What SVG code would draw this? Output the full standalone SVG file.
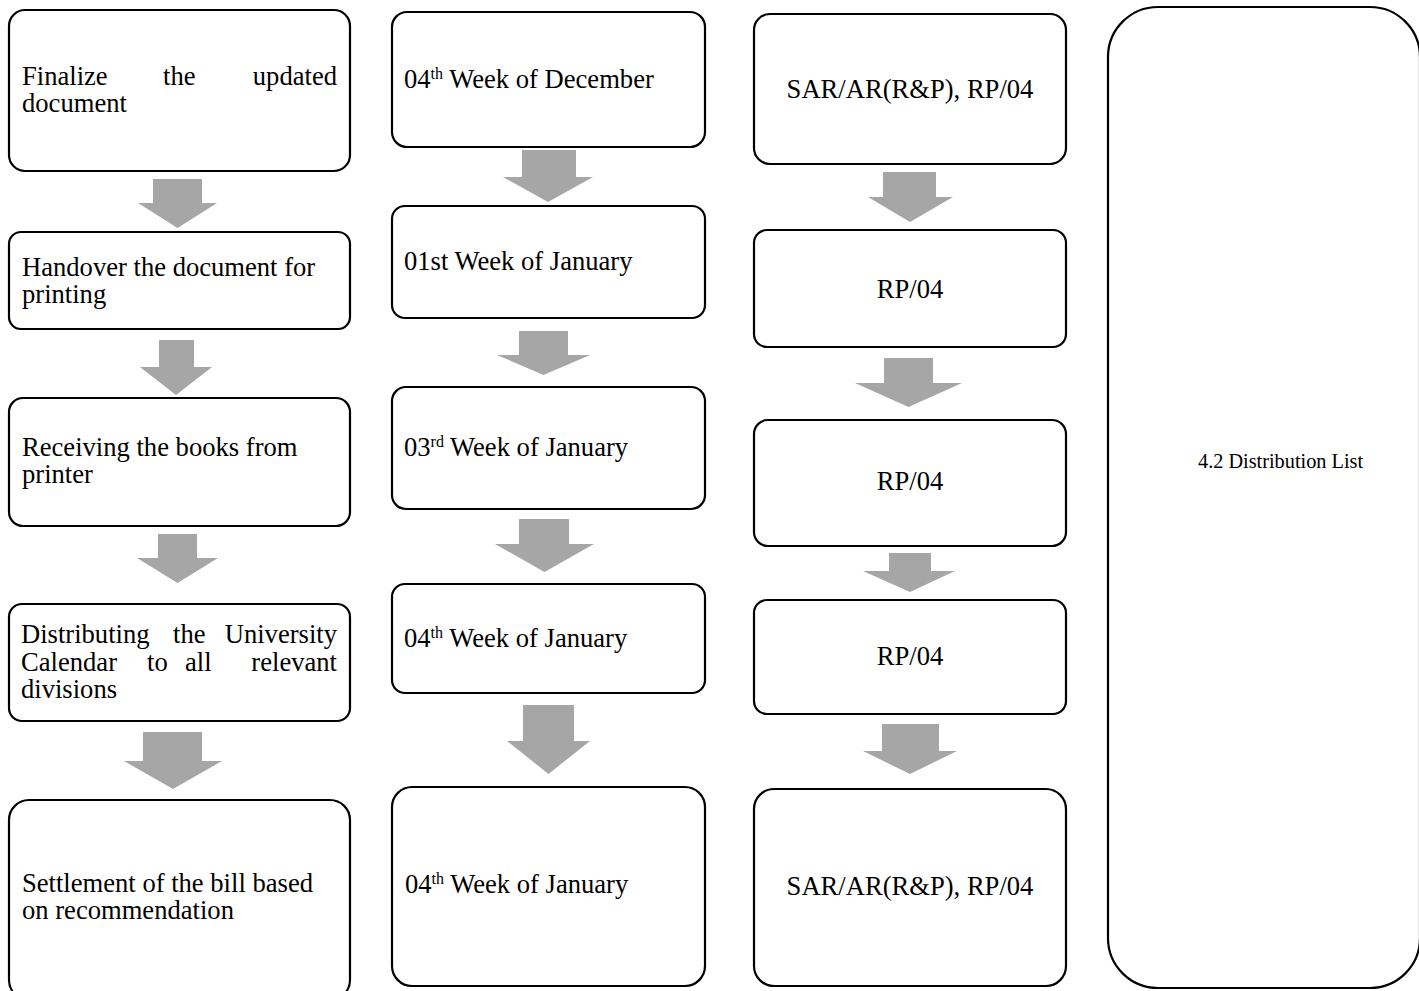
<svg xmlns="http://www.w3.org/2000/svg" width="1419" height="991" viewBox="0 0 1419 991">
  <style>
    .box { fill: #ffffff; stroke: #000000; stroke-width: 2.2; }
    .arrow { fill: #a6a6a6; stroke: none; }
    text { font-family: "Liberation Serif", "Times New Roman", serif; font-size: 26.6px; fill: #000000; }
    .c { text-anchor: middle; }
    .e { text-anchor: end; }
    .sup { font-size: 16px; }
    .small { font-size: 20.3px; }
  </style>
  <rect width="1419" height="991" fill="#ffffff"/>

  <!-- Column 1: activities -->
  <g id="act1">
    <rect class="box" x="9" y="10" width="341" height="161" rx="16"/>
    <text y="85"><tspan x="22">Finalize</tspan><tspan x="163">the</tspan><tspan x="337" class="e">updated</tspan></text>
    <text x="22" y="112">document</text>
  </g>
  <g id="act2">
    <rect class="box" x="9" y="232" width="341" height="97" rx="12"/>
    <text x="22" y="276">Handover the document for</text>
    <text x="22" y="303">printing</text>
  </g>
  <g id="act3">
    <rect class="box" x="9" y="398" width="341" height="128" rx="14"/>
    <text x="22" y="456">Receiving the books from</text>
    <text x="22" y="483">printer</text>
  </g>
  <g id="act4">
    <rect class="box" x="9" y="604" width="341" height="117" rx="13"/>
    <text y="643"><tspan x="21">Distributing</tspan><tspan x="173">the</tspan><tspan x="337" class="e">University</tspan></text>
    <text y="671"><tspan x="21">Calendar</tspan><tspan x="147">to</tspan><tspan x="185">all</tspan><tspan x="337" class="e">relevant</tspan></text>
    <text x="21" y="698">divisions</text>
  </g>
  <g id="act5">
    <rect class="box" x="9" y="800" width="341" height="200" rx="20"/>
    <text x="22" y="892">Settlement of the bill based</text>
    <text x="22" y="919">on recommendation</text>
  </g>

  <!-- Column 2: time frame -->
  <g id="time1">
    <rect class="box" x="392" y="12" width="313" height="135" rx="15"/>
    <text x="404" y="88">04<tspan class="sup" dy="-9">th</tspan><tspan dy="9"> Week of December</tspan></text>
  </g>
  <g id="time2">
    <rect class="box" x="392" y="206" width="313" height="112" rx="13"/>
    <text x="404" y="270">01st Week of January</text>
  </g>
  <g id="time3">
    <rect class="box" x="392" y="387" width="313" height="122" rx="14"/>
    <text x="404" y="456">03<tspan class="sup" dy="-9">rd</tspan><tspan dy="9"> Week of January</tspan></text>
  </g>
  <g id="time4">
    <rect class="box" x="392" y="584" width="313" height="109" rx="13"/>
    <text x="404" y="647">04<tspan class="sup" dy="-9">th</tspan><tspan dy="9"> Week of January</tspan></text>
  </g>
  <g id="time5">
    <rect class="box" x="392" y="787" width="313" height="199" rx="20"/>
    <text x="405" y="893">04<tspan class="sup" dy="-9">th</tspan><tspan dy="9"> Week of January</tspan></text>
  </g>

  <!-- Column 3: responsibility -->
  <g id="resp1">
    <rect class="box" x="754" y="14" width="312" height="150" rx="16"/>
    <text class="c" x="910" y="98">SAR/AR(R&amp;P), RP/04</text>
  </g>
  <g id="resp2">
    <rect class="box" x="754" y="230" width="312" height="117" rx="13"/>
    <text class="c" x="910" y="298">RP/04</text>
  </g>
  <g id="resp3">
    <rect class="box" x="754" y="420" width="312" height="126" rx="14"/>
    <text class="c" x="910" y="490">RP/04</text>
  </g>
  <g id="resp4">
    <rect class="box" x="754" y="600" width="312" height="114" rx="13"/>
    <text class="c" x="910" y="665">RP/04</text>
  </g>
  <g id="resp5">
    <rect class="box" x="754" y="789" width="312" height="197" rx="20"/>
    <text class="c" x="910" y="895">SAR/AR(R&amp;P), RP/04</text>
  </g>

  <!-- Column 4: reference section -->
  <g id="section">
    <rect class="box" x="1108" y="7" width="312" height="981" rx="50"/>
    <text class="small" x="1198" y="468">4.2 Distribution List</text>
  </g>

  <!-- Block arrows between steps -->
  <g id="connectors">
    <polygon class="arrow" points="153,179 202,179 202,203 217,203 177.5,228 138,203 153,203"/>
    <polygon class="arrow" points="159,340 194,340 194,367 212,367 176,395 140,367 159,367"/>
    <polygon class="arrow" points="158,534 197,534 197,558 218,558 177.5,583 137,558 158,558"/>
    <polygon class="arrow" points="143,732 202,732 202,761 222,761 173,789 124,761 143,761"/>

    <polygon class="arrow" points="522,150 576,150 576,177 593,177 548,202 503,177 522,177"/>
    <polygon class="arrow" points="519,331 568,331 568,355 590,355 543.5,375 497,355 519,355"/>
    <polygon class="arrow" points="519,519 569,519 569,544 594,544 544.5,572 495,544 519,544"/>
    <polygon class="arrow" points="523,705 574,705 574,741 590,741 548.5,774 507,741 523,741"/>

    <polygon class="arrow" points="883,172 936,172 936,197 953,197 910,222 868,197 883,197"/>
    <polygon class="arrow" points="884,358 933,358 933,383 962,383 908.5,407 855,383 884,383"/>
    <polygon class="arrow" points="889,553 931,553 931,571 955,571 910,592 863,571 889,571"/>
    <polygon class="arrow" points="882,724 939,724 939,751 957,751 910,774 863,751 882,751"/>
  </g>
</svg>
